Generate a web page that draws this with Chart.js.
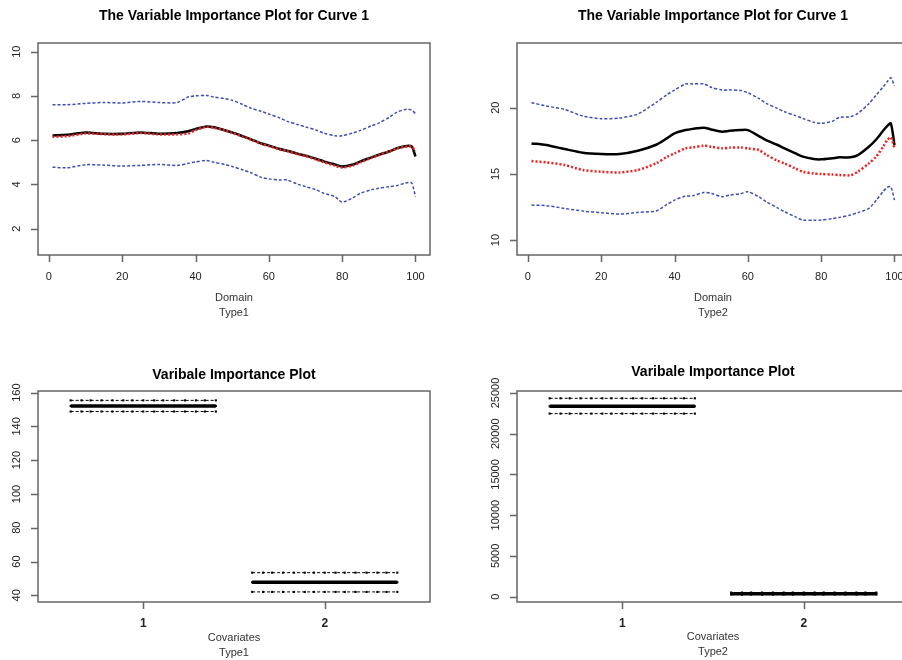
<!DOCTYPE html>
<html>
<head>
<meta charset="utf-8">
<script src="https://cdn.jsdelivr.net/npm/chart.js@4.4.0/dist/chart.umd.min.js"></script>
<style>
  html, body { margin: 0; padding: 0; background: #fff; overflow: hidden; }
  body { width: 902px; height: 660px; position: relative; }
  canvas { position: absolute; }
</style>
</head>
<body>
<canvas id="c1" width="451" height="330" style="left:0;top:0"></canvas>
<canvas id="c2" width="470" height="330" style="left:451px;top:0"></canvas>
<canvas id="c3" width="451" height="330" style="left:0;top:330px"></canvas>
<canvas id="c4" width="470" height="330" style="left:451px;top:330px"></canvas>
<script>
// domain grid
const domainX = [1, 5, 10, 15, 20, 25, 30, 35, 38, 40, 43, 45, 48, 50, 53, 55, 58, 60, 63, 65, 68, 70, 73, 75, 78, 80, 83, 85, 88, 90, 93, 95, 97, 98, 99, 100];

// Type1 curves
const t1Upper = [7.6, 7.6, 7.66, 7.7, 7.68, 7.75, 7.7, 7.7, 7.95, 8.0, 8.02, 7.95, 7.88, 7.8, 7.6, 7.45, 7.3, 7.18, 7.0, 6.85, 6.7, 6.6, 6.45, 6.32, 6.2, 6.2, 6.33, 6.44, 6.65, 6.77, 7.05, 7.27, 7.38, 7.4, 7.35, 7.2];
const t1Lower = [4.78, 4.75, 4.89, 4.87, 4.83, 4.86, 4.9, 4.86, 4.95, 5.02, 5.08, 5.0, 4.9, 4.81, 4.65, 4.54, 4.31, 4.25, 4.2, 4.2, 4.0, 3.9, 3.75, 3.6, 3.45, 3.2, 3.4, 3.6, 3.76, 3.83, 3.9, 3.95, 4.05, 4.09, 4.06, 3.45];
const t1Black = [6.21, 6.24, 6.35, 6.29, 6.29, 6.35, 6.29, 6.32, 6.4, 6.5, 6.62, 6.58, 6.45, 6.35, 6.17, 6.05, 5.85, 5.75, 5.6, 5.52, 5.38, 5.3, 5.15, 5.04, 4.9, 4.81, 4.9, 5.04, 5.22, 5.34, 5.5, 5.64, 5.72, 5.75, 5.72, 5.26];
const t1Red = [6.15, 6.18, 6.3, 6.27, 6.26, 6.32, 6.26, 6.26, 6.3, 6.45, 6.6, 6.56, 6.44, 6.33, 6.15, 6.03, 5.83, 5.73, 5.58, 5.5, 5.36, 5.28, 5.12, 5.0, 4.85, 4.76, 4.86, 5.0, 5.2, 5.32, 5.5, 5.62, 5.7, 5.72, 5.7, 5.5];

// Type2 curves
const t2Upper = [20.38, 20.13, 19.87, 19.37, 19.17, 19.22, 19.52, 20.4, 21.0, 21.33, 21.79, 21.8, 21.8, 21.54, 21.33, 21.35, 21.3, 21.13, 20.7, 20.33, 19.95, 19.7, 19.4, 19.19, 18.9, 18.82, 18.97, 19.27, 19.32, 19.57, 20.3, 20.96, 21.6, 21.96, 22.27, 21.64];
const t2Lower = [12.64, 12.6, 12.39, 12.19, 12.07, 11.96, 12.09, 12.2, 12.7, 13.02, 13.32, 13.35, 13.6, 13.53, 13.27, 13.4, 13.5, 13.65, 13.27, 12.9, 12.45, 12.14, 11.75, 11.51, 11.5, 11.51, 11.62, 11.71, 11.89, 12.07, 12.39, 13.0, 13.7, 13.98, 14.03, 13.02];
const t2Black = [17.3, 17.18, 16.88, 16.6, 16.5, 16.5, 16.75, 17.2, 17.7, 18.06, 18.31, 18.4, 18.49, 18.36, 18.19, 18.25, 18.31, 18.31, 17.86, 17.55, 17.2, 16.93, 16.55, 16.3, 16.12, 16.1, 16.18, 16.25, 16.25, 16.42, 17.05, 17.6, 18.3, 18.61, 18.82, 17.18];
const t2Red = [15.97, 15.87, 15.67, 15.29, 15.16, 15.11, 15.29, 15.8, 16.3, 16.55, 16.93, 17.0, 17.13, 17.05, 16.93, 16.98, 17.0, 16.93, 16.8, 16.45, 16.0, 15.79, 15.4, 15.16, 15.02, 14.99, 14.95, 14.91, 14.9, 15.16, 15.79, 16.3, 17.1, 17.56, 17.76, 16.93];

// covariate importance (mean and bands), covariates 1 and 2
const covariates = [1, 2];
const covOffsets = [-0.4, -0.34, -0.29, -0.23, -0.17, -0.11, -0.06, 0, 0.06, 0.11, 0.17, 0.23, 0.29, 0.34, 0.4];
const imp1Mean = [152.1, 47.7];
const imp1Upper = [155.4, 53.4];
const imp1Lower = [148.8, 42.0];
const imp2Mean = [23370, 350];
const imp2Upper = [24350, 500];
const imp2Lower = [22470, 250];

const domainTicks = [0, 20, 40, 60, 80, 100];
const t1Ticks = [2, 4, 6, 8, 10];
const t2Ticks = [10, 15, 20];
const imp1Ticks = [40, 60, 80, 100, 120, 140, 160];
const imp2Ticks = [0, 5000, 10000, 15000, 20000, 25000];

const BLUE = '#3e4db4';
const RED = '#f02020';
const FONT = '"Liberation Sans", Arial, sans-serif';

const curve = (vals) => domainX.map((x, i) => ({ x: x, y: vals[i] }));
const segment = (cov, val) => covOffsets.map(o => ({ x: cov + o, y: val }));

// R style box, ticks and labels
const rAxes = {
  id: 'rAxes',
  afterDraw(chart, args, opts) {
    const { ctx, chartArea: a, scales: { x, y } } = chart;
    ctx.save();
    ctx.strokeStyle = '#666';
    ctx.lineWidth = 1.5;
    ctx.strokeRect(a.left, a.top, a.right - a.left, a.bottom - a.top);

    ctx.beginPath();
    opts.xTicks.forEach(v => {
      const px = Math.round(x.getPixelForValue(v)) + 0.5;
      ctx.moveTo(px, a.bottom); ctx.lineTo(px, a.bottom + 7);
    });
    opts.yTicks.forEach(v => {
      const py = Math.round(y.getPixelForValue(v)) + 0.5;
      ctx.moveTo(a.left, py); ctx.lineTo(a.left - 7, py);
    });
    ctx.stroke();

    ctx.fillStyle = '#222';
    ctx.textAlign = 'center';
    ctx.textBaseline = 'middle';
    ctx.font = (opts.boldX ? 'bold 12px ' : '11px ') + FONT;
    opts.xTicks.forEach(v => ctx.fillText(String(v), x.getPixelForValue(v), a.bottom + 22));

    ctx.font = '11px ' + FONT;
    opts.yTicks.forEach(v => {
      ctx.save();
      ctx.translate(a.left - 21, y.getPixelForValue(v));
      ctx.rotate(-Math.PI / 2);
      ctx.fillText(String(v), 0, 0);
      ctx.restore();
    });

    const cx = (a.left + a.right) / 2;
    ctx.fillStyle = '#333';
    opts.xLabel.forEach((t, i) => ctx.fillText(t, cx, a.bottom + opts.labelY[i]));

    ctx.fillStyle = '#000';
    ctx.font = 'bold 14px ' + FONT;
    ctx.fillText(opts.title, cx, a.top - opts.titleGap);
    ctx.restore();
  }
};

function baseOptions(xr, yr, pad, axes) {
  return {
    responsive: false,
    animation: false,
    layout: { padding: pad },
    scales: {
      x: { type: 'linear', min: xr[0], max: xr[1], display: false },
      y: { type: 'linear', min: yr[0], max: yr[1], display: false }
    },
    plugins: { legend: { display: false }, tooltip: { enabled: false }, rAxes: axes }
  };
}

function curveSets(up, lo, black, red) {
  return [
    { data: curve(red), borderColor: RED, borderWidth: 2.5, borderDash: [2, 2], pointRadius: 0, tension: 0.25 },
    { data: curve(black), borderColor: '#000', borderWidth: 2.5, pointRadius: 0, tension: 0.25 },
    { data: curve(up), borderColor: BLUE, borderWidth: 1.5, borderDash: [3, 2], pointRadius: 0, tension: 0.25 },
    { data: curve(lo), borderColor: BLUE, borderWidth: 1.5, borderDash: [3, 2], pointRadius: 0, tension: 0.25 }
  ];
}

function impSets(mean, upper, lower) {
  const sets = [];
  covariates.forEach((c, i) => {
    sets.push({ data: segment(c, mean[i]), borderColor: '#000', backgroundColor: '#000', borderWidth: 3.5, pointStyle: 'rect', pointRadius: 1.5, pointBorderWidth: 0 });
    sets.push({ data: segment(c, upper[i]), borderColor: '#000', backgroundColor: '#000', borderWidth: 1, borderDash: [3, 2], pointStyle: 'rect', pointRadius: 1.5, pointBorderWidth: 0 });
    sets.push({ data: segment(c, lower[i]), borderColor: '#000', backgroundColor: '#000', borderWidth: 1, borderDash: [3, 2], pointStyle: 'rect', pointRadius: 1.5, pointBorderWidth: 0 });
  });
  return sets;
}

new Chart(document.getElementById('c1'), {
  type: 'line',
  data: { datasets: curveSets(t1Upper, t1Lower, t1Black, t1Red) },
  options: baseOptions([-2.96, 103.96], [0.81, 10.39], { left: 38, right: 21, top: 43, bottom: 75 },
    { xTicks: domainTicks, yTicks: t1Ticks, title: 'The Variable Importance Plot for Curve 1', titleGap: 26.5, xLabel: ['Domain', 'Type1'], labelY: [43, 58] }),
  plugins: [rAxes]
});

new Chart(document.getElementById('c2'), {
  type: 'line',
  data: { datasets: curveSets(t2Upper, t2Lower, t2Black, t2Red) },
  options: baseOptions([-2.96, 103.96], [8.87, 24.89], { left: 66, right: 12, top: 43, bottom: 75 },
    { xTicks: domainTicks, yTicks: t2Ticks, title: 'The Variable Importance Plot for Curve 1', titleGap: 26.5, xLabel: ['Domain', 'Type2'], labelY: [43, 58] }),
  plugins: [rAxes]
});

new Chart(document.getElementById('c3'), {
  type: 'line',
  data: { datasets: impSets(imp1Mean, imp1Upper, imp1Lower) },
  options: baseOptions([0.42, 2.58], [36.03, 160.95], { left: 38, right: 21, top: 61, bottom: 58 },
    { xTicks: covariates, yTicks: imp1Ticks, boldX: true, title: 'Varibale Importance Plot', titleGap: 16, xLabel: ['Covariates', 'Type1'], labelY: [36, 51] }),
  plugins: [rAxes]
});

new Chart(document.getElementById('c4'), {
  type: 'line',
  data: { datasets: impSets(imp2Mean, imp2Upper, imp2Lower) },
  options: baseOptions([0.42, 2.58], [-663, 25246], { left: 66, right: 12, top: 61, bottom: 58 },
    { xTicks: covariates, yTicks: imp2Ticks, boldX: true, title: 'Varibale Importance Plot', titleGap: 19, xLabel: ['Covariates', 'Type2'], labelY: [35, 50] }),
  plugins: [rAxes]
});
</script>
</body>
</html>
